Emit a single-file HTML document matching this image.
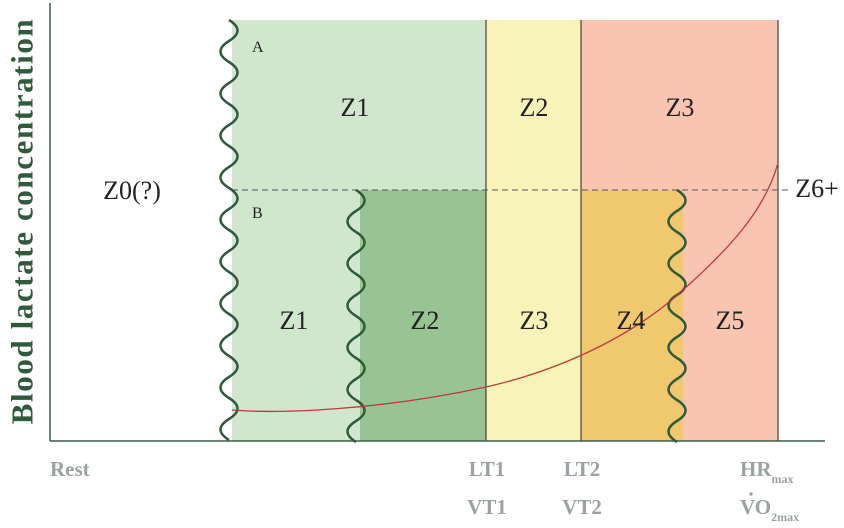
<!DOCTYPE html>
<html><head><meta charset="utf-8"><style>
html,body{margin:0;padding:0;background:#fff;}
svg{display:block;}
text{font-family:"Liberation Serif",serif;}
</style></head><body>
<svg width="844" height="528" viewBox="0 0 844 528" xmlns="http://www.w3.org/2000/svg">
<rect x="232" y="20" width="254" height="170" fill="#d0e6cd"/>
<rect x="232" y="190" width="128" height="251" fill="#d0e6cd"/>
<rect x="360" y="190" width="126" height="251" fill="#98c493"/>
<rect x="486" y="20" width="95" height="421" fill="#f8f4b9"/>
<rect x="581" y="20" width="197" height="170" fill="#f9c5b0"/>
<rect x="581" y="190" width="102" height="251" fill="#f0c96e"/>
<rect x="683" y="190" width="95" height="251" fill="#f9c5b0"/>
<line x1="486" y1="20" x2="486" y2="441" stroke="#222" stroke-width="1"/>
<line x1="581" y1="20" x2="581" y2="441" stroke="#222" stroke-width="1"/>
<line x1="778" y1="20" x2="778" y2="441" stroke="#222" stroke-width="1"/>
<line x1="232" y1="190" x2="790" y2="190" stroke="#556" stroke-width="1" stroke-dasharray="6,4"/>
<path d="M229,20 q17,10.5 0,21 t0,21 t0,21 t0,21 t0,21 t0,21 t0,21 t0,21 t0,21 t0,21 t0,21 t0,21 t0,21 t0,21 t0,21 t0,21 t0,21 t0,21 t0,21 t0,21" fill="none" stroke="#2f5a3c" stroke-width="2.5"/>
<path d="M356,190 q17,10.5 0,21 t0,21 t0,21 t0,21 t0,21 t0,21 t0,21 t0,21 t0,21 t0,21 t0,21 t0,21" fill="none" stroke="#2f5a3c" stroke-width="2.5"/>
<path d="M677,190 q17,10.5 0,21 t0,21 t0,21 t0,21 t0,21 t0,21 t0,21 t0,21 t0,21 t0,21 t0,21 t0,21" fill="none" stroke="#2f5a3c" stroke-width="2.5"/>
<line x1="50" y1="3" x2="50" y2="441" stroke="#3d5c48" stroke-width="1.5"/>
<line x1="50" y1="441" x2="825" y2="441" stroke="#3d5c48" stroke-width="1.5"/>
<path d="M232,410 C280,414 380,410 486,387 C570,368 640,330 683,290 C730,248 765,210 778,163" fill="none" stroke="#c0393b" stroke-width="1.3"/>
<text x="22" y="221" transform="rotate(-90 22 221)" text-anchor="middle" dominant-baseline="central" font-size="31" font-weight="bold" letter-spacing="1.6" fill="#2f5a3c">Blood lactate concentration</text>
<g font-size="26" fill="#222" text-anchor="middle">
<text x="132" y="199">Z0(?)</text>
<text x="355" y="116">Z1</text>
<text x="534" y="116">Z2</text>
<text x="680" y="116">Z3</text>
<text x="294" y="329">Z1</text>
<text x="425" y="329">Z2</text>
<text x="534" y="329">Z3</text>
<text x="631" y="329">Z4</text>
<text x="730" y="329">Z5</text>
<text x="817" y="197">Z6+</text>
</g>
<text x="252" y="52" font-size="16" fill="#222">A</text>
<text x="252" y="218" font-size="16" fill="#222">B</text>
<g font-size="21" font-weight="bold" fill="#9aa39d">
<text x="50" y="476">Rest</text>
<text x="487" y="476" text-anchor="middle">LT1</text>
<text x="582" y="476" text-anchor="middle">LT2</text>
<text x="487" y="514" text-anchor="middle">VT1</text>
<text x="582" y="514" text-anchor="middle">VT2</text>
<text x="740" y="476">HR<tspan font-size="12" dy="7">max</tspan></text>
<text x="740" y="514">VO<tspan font-size="12" dy="7">2max</tspan></text>
<circle cx="751" cy="494" r="1.7" fill="#9aa39d"/>
</g>
</svg>
</body></html>
